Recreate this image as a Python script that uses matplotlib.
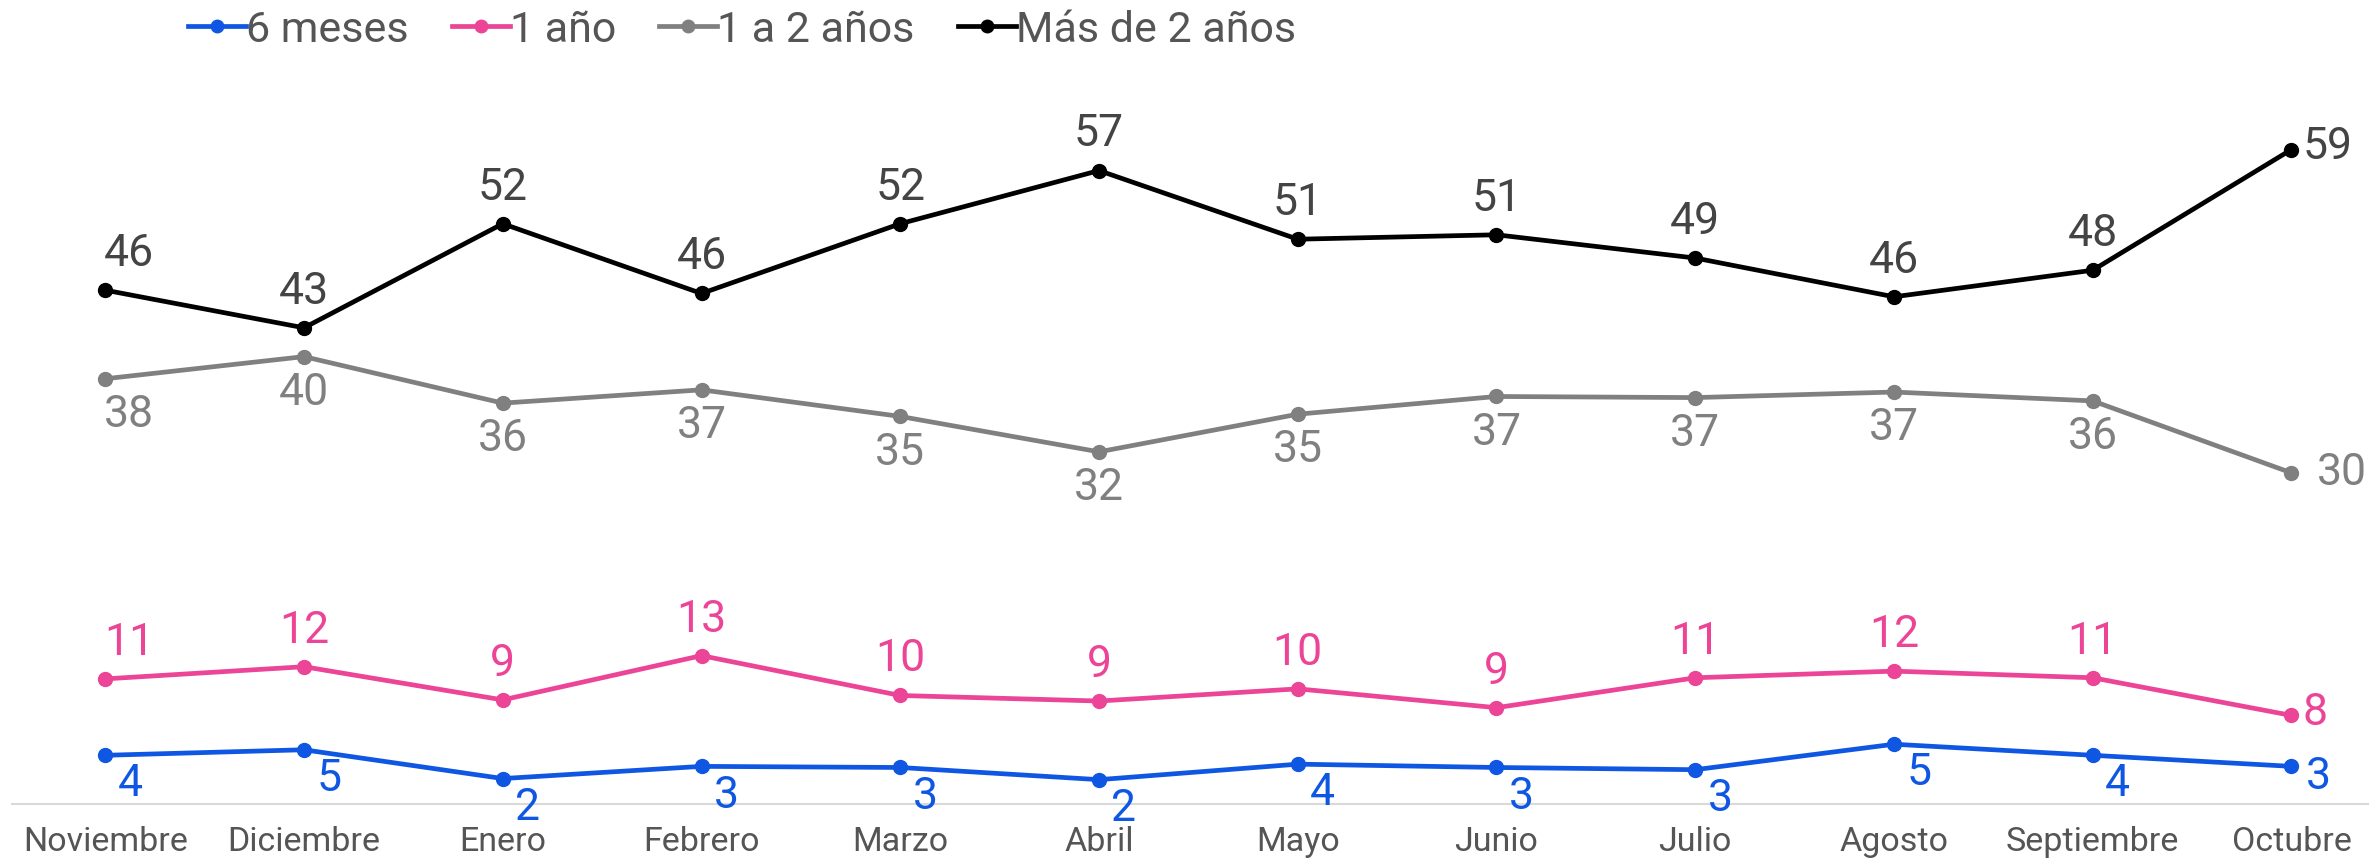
import matplotlib
matplotlib.use("Agg")
import matplotlib.pyplot as plt
from matplotlib.lines import Line2D

plt.rcParams["font.family"] = ["Roboto", "DejaVu Sans"]

months = ["Noviembre", "Diciembre", "Enero", "Febrero", "Marzo", "Abril",
          "Mayo", "Junio", "Julio", "Agosto", "Septiembre", "Octubre"]

seis_meses = [4.4, 4.9, 2.3, 3.4, 3.3, 2.2, 3.6, 3.3, 3.1, 5.4, 4.4, 3.4]
un_ano = [11.3, 12.4, 9.4, 13.4, 9.8, 9.3, 10.4, 8.7, 11.4, 12.0, 11.4, 8.0]
uno_a_dos = [38.4, 40.4, 36.2, 37.4, 35.0, 31.8, 35.2, 36.8, 36.7, 37.2, 36.4, 29.9]
mas_de_dos = [46.4, 43.0, 52.4, 46.1, 52.4, 57.2, 51.0, 51.4, 49.3, 45.8, 48.2, 59.1]

series_names = ["6 meses", "1 año", "1 a 2 años", "Más de 2 años"]

# line colour, label colour, label side
BLUE = "#0F57E3"
PINK = "#EC4496"
GRAY = "#808080"
BLACK = "#000000"
styles = [
    (seis_meses, BLUE, BLUE, "below_right"),
    (un_ano, PINK, PINK, "above"),
    (uno_a_dos, GRAY, GRAY, "below"),
    (mas_de_dos, BLACK, "#444444", "above"),
]

fig = plt.figure(figsize=(23.69, 8.59), dpi=100)
ax = fig.add_axes([0.005, 0.064, 0.995, 0.936])
x = list(range(len(months)))

for vals, lc, tc, side in styles:
    ax.plot(x, vals, color=lc, lw=3.4, marker="o", ms=10, zorder=3,
            solid_joinstyle="round")
    for i, v in enumerate(vals):
        s = "%d" % int(v + 0.5)
        last = i == len(vals) - 1
        if last:
            if side == "below_right":
                off, ha, va = (10, -8), "left", "center"
            elif side == "below":
                off, ha, va = (18, 0), "left", "center"
            else:
                off, ha, va = (8, 2), "left", "center"
        elif side == "above":
            off, ha, va = (0, 26), "center", "center"
        elif side == "below":
            off, ha, va = (0, -26), "center", "center"
        else:
            off, ha, va = (18, -21), "center", "center"
        if i == 0 and side != "below_right":
            off, ha = (off[0] - 1, off[1]), "left"
        ax.annotate(s, (i, v), xytext=off, textcoords="offset points",
                    ha=ha, va=va, fontsize=32, color=tc, zorder=4)

ax.set_xlim(-0.47, 11.39)
ax.set_ylim(0, 72.6)
ax.set_xticks(x)
ax.set_xticklabels(months, fontsize=24.5, color="#555555")
ax.tick_params(axis="x", length=0, pad=16)
ax.set_yticks([])
for sp in ["left", "right", "top"]:
    ax.spines[sp].set_visible(False)
ax.spines["bottom"].set_color("#d9d9d9")
ax.spines["bottom"].set_linewidth(1.5)

handles = [Line2D([0], [0], color=c, lw=3.4, marker="o", ms=9)
           for _, c, _, _ in styles]
leg = fig.legend(handles, series_names, loc="center left",
                 bbox_to_anchor=(0.072, 0.965), ncol=4, frameon=False,
                 fontsize=31, handlelength=1.35, handletextpad=0.0,
                 columnspacing=1.0, borderaxespad=0)
for t in leg.get_texts():
    t.set_color("#555555")

fig.savefig("out.png", dpi=100, facecolor="white")
